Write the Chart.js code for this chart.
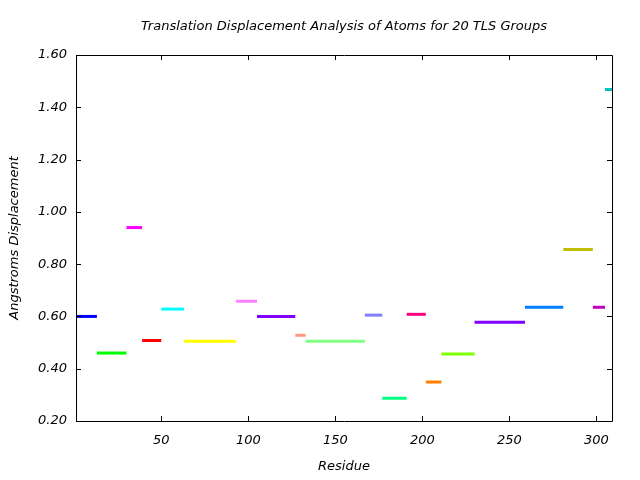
<!DOCTYPE html>
<html>
<head>
<meta charset="utf-8">
<script src="https://cdn.jsdelivr.net/npm/chart.js@4.4.1/dist/chart.umd.min.js"></script>
<style>
    html, body { margin: 0; padding: 0; background: #fff; }
    #tlsChart { display: block; }
</style>
</head>
<body>
<canvas id="tlsChart" width="640" height="480"></canvas>
<script>
// TLS groups: residue range and translation displacement (Angstroms)
const groupStart = [1, 13, 30, 39, 50, 63, 93, 105, 127, 133, 167, 177, 191, 202, 211, 230, 259, 281, 298, 305];
const groupEnd   = [13, 30, 39, 50, 63, 93, 105, 127, 133, 167, 177, 191, 202, 211, 230, 259, 281, 298, 305, 309];
const groupValue = [0.600, 0.460, 0.940, 0.508, 0.628, 0.505, 0.658, 0.600, 0.528, 0.505,
                    0.605, 0.287, 0.608, 0.349, 0.456, 0.578, 0.635, 0.856, 0.635, 1.468];
const groupColor = ['#0000ff', '#00ff00', '#ff00ff', '#ff0000', '#00ffff', '#ffff00', '#ff80ff', '#8000ff',
                    '#ff9980', '#80ff80', '#8080ff', '#00ff80', '#ff0080', '#ff8000', '#80ff00', '#8000ff',
                    '#0080ff', '#c0c000', '#c000c0', '#00c0c0'];
const xTicks = [50, 100, 150, 200, 250, 300];
const yTicks = [0.2, 0.4, 0.6, 0.8, 1.0, 1.2, 1.4, 1.6];
const chartTitle = 'Translation Displacement Analysis of Atoms for 20 TLS Groups';

const FONT = 'DejaVu Sans';
const FONT_SIZE = 13;

document.addEventListener('DOMContentLoaded', function() {
    initTlsChart();
});

// gnuplot-like frame: border box with inward ticks on all four sides,
// title centred over the plot area
const frameTicks = {
    id: 'frameTicks',
    afterDraw(chart) {
        const ctx = chart.ctx;
        const a = chart.chartArea;
        const xs = chart.scales.x;
        const ys = chart.scales.y;
        const len = 5;
        ctx.save();
        ctx.strokeStyle = '#000';
        ctx.lineWidth = 1;
        ctx.beginPath();
        ctx.rect(Math.round(a.left) + 0.5, Math.round(a.top) + 0.5,
                 Math.round(a.right - a.left), Math.round(a.bottom - a.top));
        xTicks.forEach(function(v) {
            const px = Math.round(xs.getPixelForValue(v)) + 0.5;
            ctx.moveTo(px, a.bottom); ctx.lineTo(px, a.bottom - len);
            ctx.moveTo(px, a.top); ctx.lineTo(px, a.top + len);
        });
        yTicks.forEach(function(v) {
            const py = Math.round(ys.getPixelForValue(v)) + 0.5;
            ctx.moveTo(a.left, py); ctx.lineTo(a.left + len, py);
            ctx.moveTo(a.right, py); ctx.lineTo(a.right - len, py);
        });
        ctx.stroke();

        ctx.fillStyle = '#000';
        ctx.font = 'italic ' + FONT_SIZE + 'px "' + FONT + '"';
        ctx.textAlign = 'center';
        ctx.textBaseline = 'middle';
        ctx.fillText(chartTitle, (a.left + a.right) / 2, 27);
        ctx.restore();
    }
};

function initTlsChart() {
    const canvas = document.getElementById('tlsChart');
    if (!canvas) return;

    const ctx = canvas.getContext('2d');

    const datasets = groupValue.map(function(v, i) {
        return {
            label: 'Group ' + (i + 1),
            data: [{ x: groupStart[i], y: v }, { x: groupEnd[i], y: v }],
            borderColor: groupColor[i],
            backgroundColor: groupColor[i],
            borderWidth: 3,
            pointRadius: 0,
            fill: false,
            tension: 0
        };
    });

    const tickFont = { family: FONT, size: FONT_SIZE, style: 'italic' };

    new Chart(ctx, {
        type: 'line',
        data: { datasets: datasets },
        options: {
            responsive: false,
            animation: false,
            layout: { padding: { left: 0, right: 28, top: 55, bottom: 0 } },
            plugins: {
                legend: { display: false },
                tooltip: { enabled: false },
                title: { display: false }
            },
            scales: {
                x: {
                    type: 'linear',
                    min: 1,
                    max: 309,
                    afterFit: function(scale) { scale.height = 59; },
                    afterBuildTicks: function(scale) {
                        scale.ticks = xTicks.map(function(v) { return { value: v }; });
                    },
                    grid: { display: false, drawTicks: false },
                    border: { display: false },
                    ticks: { color: '#000', padding: 12, maxRotation: 0, font: tickFont },
                    title: {
                        display: true,
                        text: 'Residue',
                        color: '#000',
                        font: tickFont,
                        padding: { top: 6, bottom: 6 }
                    }
                },
                y: {
                    type: 'linear',
                    min: 0.2,
                    max: 1.6,
                    afterFit: function(scale) { scale.width = 76; },
                    afterBuildTicks: function(scale) {
                        scale.ticks = yTicks.map(function(v) { return { value: v }; });
                    },
                    grid: { display: false, drawTicks: false },
                    border: { display: false },
                    ticks: {
                        color: '#000',
                        padding: 9,
                        font: tickFont,
                        callback: function(v) { return Number(v).toFixed(2); }
                    },
                    title: {
                        display: true,
                        text: 'Angstroms Displacement',
                        color: '#000',
                        font: tickFont,
                        padding: { top: 7, bottom: 4 }
                    }
                }
            }
        },
        plugins: [frameTicks]
    });
}
</script>
</body>
</html>
